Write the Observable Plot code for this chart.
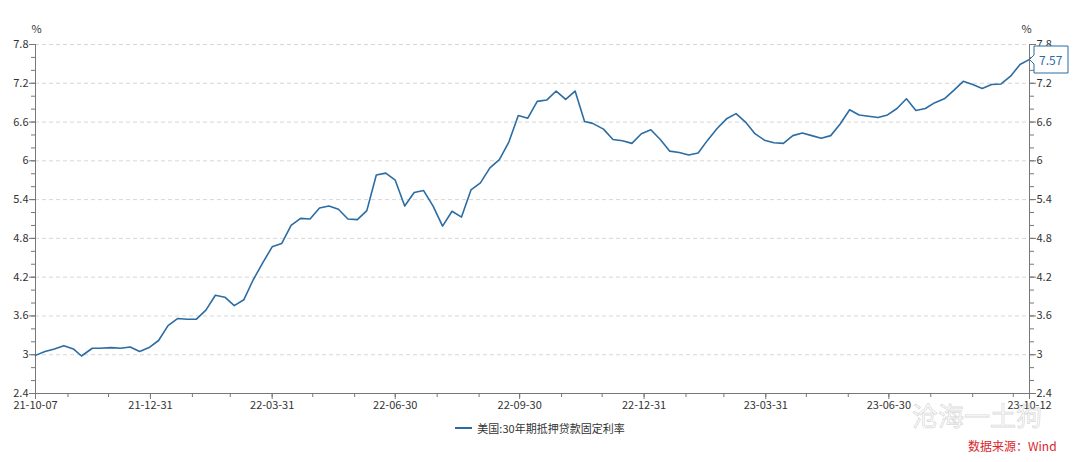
<!DOCTYPE html>
<html>
<head>
<meta charset="utf-8">
<script src="https://cdn.jsdelivr.net/npm/d3@7"></script>
<script src="https://cdn.jsdelivr.net/npm/@observablehq/plot@0.6"></script>
<style>
  html, body { margin: 0; padding: 0; background: #fff; }
  #wrap { position: relative; width: 1080px; height: 462px; overflow: hidden;
          font-family: "Noto Sans CJK SC", "Noto Sans", sans-serif; }
  #legend { position: absolute; top: 420px; left: 0; width: 1080px; display: flex;
            justify-content: center; align-items: center; font-size: 11px; color: #333; }
  #legend .sw { display: inline-block; width: 17px; height: 2.5px; background: #2b6ca3; margin-right: 5px; }
  #caption { position: absolute; top: 437px; left: 968px; font-size: 12px; color: #d9262c; white-space: nowrap; }
  #wm { position: absolute; top: 396px; left: 912px; font-size: 26px; color: rgba(255,255,255,0.2);
        -webkit-text-stroke: 0.8px rgba(170,170,170,0.45); white-space: nowrap; }
  .last-tip text, .last-tip tspan { fill: #2b6ca3; }
</style>
</head>
<body>
<div id="wrap">
  <div id="chart"></div>
  <div id="legend"><span class="sw"></span><span id="legendText"></span></div>
  <div id="caption"></div>
  <div id="wm">沧海一土狗</div>
</div>
<script>
const seriesName = "美国:30年期抵押贷款固定利率";
const sourceText = "数据来源：Wind";
const unitLabel = "%";

const dates = [
  "2021-10-07","2021-10-14","2021-10-21","2021-10-28","2021-11-04","2021-11-10","2021-11-18","2021-11-24","2021-12-02","2021-12-09","2021-12-16","2021-12-23","2021-12-30",
  "2022-01-06","2022-01-13","2022-01-20","2022-01-27","2022-02-03","2022-02-10","2022-02-17","2022-02-24","2022-03-03","2022-03-10","2022-03-17","2022-03-24","2022-03-31",
  "2022-04-07","2022-04-14","2022-04-21","2022-04-28","2022-05-05","2022-05-12","2022-05-19","2022-05-26","2022-06-02","2022-06-09","2022-06-16","2022-06-23","2022-06-30",
  "2022-07-07","2022-07-14","2022-07-21","2022-07-28","2022-08-04","2022-08-11","2022-08-18","2022-08-25","2022-09-01","2022-09-08","2022-09-15","2022-09-22","2022-09-29",
  "2022-10-06","2022-10-13","2022-10-20","2022-10-27","2022-11-03","2022-11-10","2022-11-17","2022-11-23","2022-12-01","2022-12-08","2022-12-15","2022-12-22","2022-12-29",
  "2023-01-05","2023-01-12","2023-01-19","2023-01-26","2023-02-02","2023-02-09","2023-02-16","2023-02-23","2023-03-02","2023-03-09","2023-03-16","2023-03-23","2023-03-30",
  "2023-04-06","2023-04-13","2023-04-20","2023-04-27","2023-05-04","2023-05-11","2023-05-18","2023-05-25","2023-06-01","2023-06-08","2023-06-15","2023-06-22","2023-06-29",
  "2023-07-06","2023-07-13","2023-07-20","2023-07-27","2023-08-03","2023-08-10","2023-08-17","2023-08-24","2023-08-31","2023-09-07","2023-09-14","2023-09-21","2023-09-28",
  "2023-10-05","2023-10-12"
];
const rates = [
  2.99,3.05,3.09,3.14,3.09,2.98,3.10,3.10,3.11,3.10,3.12,3.05,3.11,
  3.22,3.45,3.56,3.55,3.55,3.69,3.92,3.89,3.76,3.85,4.16,4.42,4.67,
  4.72,5.00,5.11,5.10,5.27,5.30,5.25,5.10,5.09,5.23,5.78,5.81,5.70,
  5.30,5.51,5.54,5.30,4.99,5.22,5.13,5.55,5.66,5.89,6.02,6.29,6.70,
  6.66,6.92,6.94,7.08,6.95,7.08,6.61,6.58,6.49,6.33,6.31,6.27,6.42,
  6.48,6.33,6.15,6.13,6.09,6.12,6.32,6.50,6.65,6.73,6.60,6.42,6.32,
  6.28,6.27,6.39,6.43,6.39,6.35,6.39,6.57,6.79,6.71,6.69,6.67,6.71,
  6.81,6.96,6.78,6.81,6.90,6.96,7.09,7.23,7.18,7.12,7.18,7.19,7.31,
  7.49,7.57
];

const yTicks = [2.4, 3, 3.6, 4.2, 4.8, 5.4, 6, 6.6, 7.2, 7.8];
const xTickLabels = ["2021-10-07","2021-12-31","2022-03-31","2022-06-30","2022-09-30","2022-12-31","2023-03-31","2023-06-30","2023-10-12"];

const parse = d3.utcParse("%Y-%m-%d");
const data = dates.map((d, i) => ({date: parse(d), rate: rates[i]}));
const xStart = data[0].date, xEnd = data[data.length - 1].date;
const xTicks = xTickLabels.map(parse);
const monthEnds = d3.utcMonth.range(d3.utcMonth.offset(d3.utcMonth.floor(xStart), 1), xEnd).map(d => d3.utcDay.offset(d, -1));
const yMinor = d3.range(0, 28).map(i => +(2.4 + i * 0.2).toFixed(1));
const axisColor = "#777";
const yFmt = d => `${d}`;

document.getElementById("legendText").textContent = seriesName;
document.getElementById("caption").textContent = sourceText;

const chart = Plot.plot({
  width: 1080,
  height: 416,
  marginTop: 44,
  marginBottom: 23,
  marginLeft: 35,
  marginRight: 51,
  style: {fontFamily: '"Noto Sans CJK SC", "Noto Sans", sans-serif', fontSize: "11px", color: "#333", background: "#fff"},
  x: {type: "utc", domain: [xStart, xEnd]},
  y: {domain: [2.4, 7.8]},
  marks: [
    Plot.gridY(yTicks.filter(v => v > 2.4), {stroke: "#d6d6d6", strokeOpacity: 1, strokeDasharray: "4,3"}),
    Plot.ruleY([2.4], {stroke: axisColor}),
    Plot.ruleX([xStart, xEnd], {stroke: axisColor}),
    Plot.axisY(yMinor, {anchor: "left", tickSize: 4, stroke: axisColor, fill: "none", label: null}),
    Plot.axisY(yTicks, {anchor: "left", tickSize: 6, tickPadding: 1, stroke: axisColor, tickFormat: yFmt, label: null}),
    Plot.axisY(yMinor, {anchor: "right", tickSize: 4, stroke: axisColor, fill: "none", label: null}),
    Plot.axisY(yTicks, {anchor: "right", tickSize: 6, tickPadding: 1, stroke: axisColor, tickFormat: yFmt, label: null}),
    Plot.axisX(monthEnds, {anchor: "bottom", tickSize: 4, stroke: axisColor, fill: "none", label: null}),
    Plot.axisX(xTicks, {anchor: "bottom", tickSize: 6, tickPadding: 2, stroke: axisColor, tickFormat: d3.utcFormat("%y-%m-%d"), label: null}),
    Plot.text([unitLabel], {frameAnchor: "top-left", textAnchor: "middle", dy: -19, dx: 1, fill: "#333"}),
    Plot.text([unitLabel], {frameAnchor: "top-right", textAnchor: "middle", dy: -19, dx: -3, fill: "#333"}),
    Plot.line(data, {x: "date", y: "rate", stroke: "#2b6ca3", strokeWidth: 1.6}),
    Plot.tip([data[data.length - 1]], {
      x: "date", y: "rate", title: d => d.rate.toFixed(2), anchor: "left",
      stroke: "#2b6ca3", fill: "#fff", fontSize: 12, textPadding: 5, pointerSize: 9,
      pathFilter: "none", className: "last-tip"
    })
  ]
});
document.getElementById("chart").appendChild(chart);
</script>
</body>
</html>
